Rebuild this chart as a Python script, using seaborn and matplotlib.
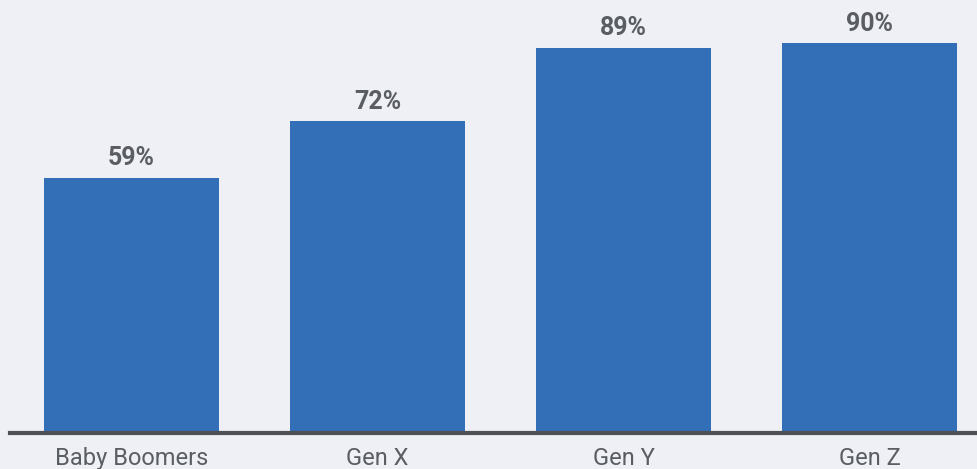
import matplotlib
matplotlib.use("Agg")
import matplotlib.pyplot as plt
import seaborn as sns
import pandas as pd

generations = ["Baby Boomers", "Gen X", "Gen Y", "Gen Z"]
shares = [59, 72, 89, 90]

bg = "#eef0f5"
bar_color = "#336fb6"
text_color = "#5a5e63"

df = pd.DataFrame({"generation": generations, "share": shares})

sns.set_style("white")
plt.rcParams["font.family"] = ["Roboto", "DejaVu Sans"]

fig = plt.figure(figsize=(9.77, 4.69), dpi=100, facecolor=bg)
ax = fig.add_axes([10 / 977, 36 / 469, 967 / 977, 433 / 469])
ax.set_facecolor(bg)

sns.barplot(data=df, x="generation", y="share", color=bar_color,
            saturation=1, width=0.711, linewidth=0, ax=ax)

for i, v in enumerate(shares):
    ax.text(i, v + 1.7, f"{v}%", ha="center", va="bottom",
            fontsize=18, fontweight="bold", color=text_color)

ax.set_xlim(-0.494, 3.435)
ax.set_ylim(0, 100)
ax.set_xlabel("")
ax.set_ylabel("")
ax.set_yticks([])
ax.tick_params(axis="x", length=0, pad=10, labelsize=17, labelcolor=text_color)
for side in ["top", "right", "left"]:
    ax.spines[side].set_visible(False)
ax.spines["bottom"].set_color("#4d5157")
ax.spines["bottom"].set_linewidth(3)

fig.savefig("out.png", dpi=100, facecolor=bg)
